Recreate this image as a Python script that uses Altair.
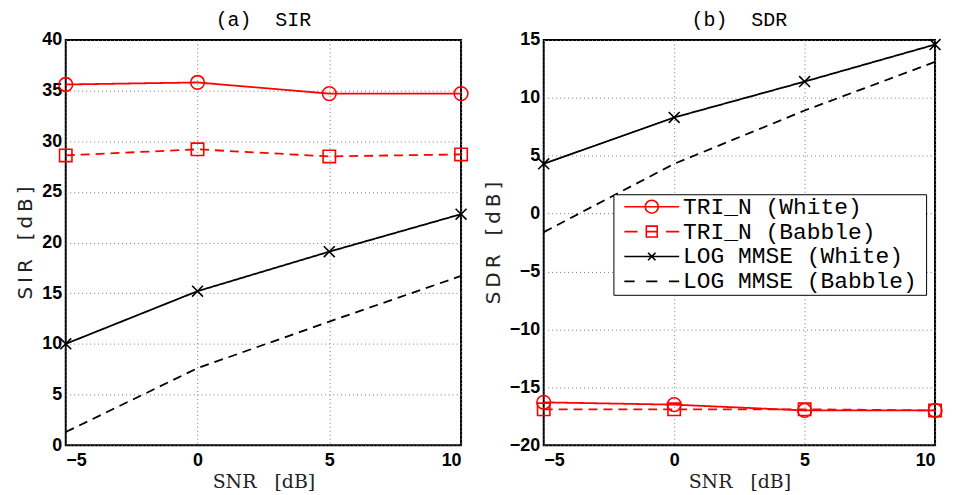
import altair as alt
import pandas as pd

snr = [-5, 0, 5, 10]
series_names = ["TRI_N (White)", "TRI_N (Babble)", "LOG MMSE (White)", "LOG MMSE (Babble)"]

sir_tri_white = [35.6, 35.8, 34.7, 34.7]
sir_tri_babble = [28.6, 29.2, 28.5, 28.7]
sir_log_white = [10.0, 15.2, 19.1, 22.8]
sir_log_babble = [1.3, 7.6, 12.2, 16.7]

sdr_tri_white = [-16.3, -16.5, -17.0, -17.0]
sdr_tri_babble = [-16.9, -16.9, -16.9, -17.0]
sdr_log_white = [4.3, 8.3, 11.4, 14.6]
sdr_log_babble = [-1.6, 4.3, 8.9, 13.1]

sir_ticks = [0, 5, 10, 15, 20, 25, 30, 35, 40]
sdr_ticks = [-20, -15, -10, -5, 0, 5, 10, 15]
snr_ticks = [-5, 0, 5, 10]

TS = "\u2009"   # thin space (letter spacing of the axis titles)
NB = "\u00a0"


def long_df(cols):
    rows = []
    for name, vals in zip(series_names, cols):
        for x, v in zip(snr, vals):
            rows.append({"snr": x, "val": v, "series": name})
    return pd.DataFrame(rows)


df_sir = long_df([sir_tri_white, sir_tri_babble, sir_log_white, sir_log_babble])
df_sdr = long_df([sdr_tri_white, sdr_tri_babble, sdr_log_white, sdr_log_babble])

color_scale = alt.Scale(domain=series_names, range=["#ff0000", "#ff0000", "#000000", "#000000"])
dash_scale = alt.Scale(domain=series_names, range=[[1, 0], [9, 6], [1, 0], [9, 6]])
marker_names = series_names[:3]
shape_scale = alt.Scale(domain=marker_names, range=["circle", "square", "M-1,-1L1,1M-1,1L1,-1"])
size_scale = alt.Scale(domain=marker_names, range=[190, 120, 60])

# legend glyphs: line segment(s) with the marker drawn in the middle
p_white = "M-3.67,0L3.67,0M-0.87,0A0.87,0.87 0 1,1 0.87,0A0.87,0.87 0 1,1 -0.87,0Z"
p_babble = "M-3.67,0L-1.9,0M-0.73,0L0.73,0M1.9,0L3.67,0M-0.73,-0.73L0.73,-0.73L0.73,0.73L-0.73,0.73Z"
p_log_white = "M-3.67,0L3.67,0M-0.5,-0.5L0.5,0.5M-0.5,0.5L0.5,-0.5"
p_log_babble = "M-3.67,0L-2.3,0M-0.75,0L0.75,0M2.3,0L3.67,0"
legend_shape_scale = alt.Scale(domain=series_names, range=[p_white, p_babble, p_log_white, p_log_babble])

legend = alt.Legend(
    title=NB,
    titleOrient="right",
    titleFontSize=8,
    titlePadding=8,
    orient="none",
    legendX=70,
    legendY=155,
    direction="vertical",
    labelFont="Liberation Mono",
    labelFontSize=23,
    labelColor="black",
    labelLimit=500,
    symbolSize=225,
    symbolStrokeWidth=1.6,
    symbolOffset=26,
    labelOffset=20,
    padding=1,
    rowPadding=1,
    strokeColor="black",
    fillColor="white",
    cornerRadius=0,
)


def panel(df, ydom, yticks, ytitle, title, with_legend, w):
    x = alt.X("snr:Q", scale=alt.Scale(domain=[-5, 10], nice=False),
              axis=alt.Axis(values=snr_ticks, title=f"SNR{NB}{NB}{NB}[dB]", format="d"))
    y = alt.Y("val:Q", scale=alt.Scale(domain=ydom, nice=False),
              axis=alt.Axis(values=yticks, title=ytitle, format="d"))
    base = alt.Chart(df)
    lines = base.mark_line(strokeWidth=1.8).encode(
        x=x, y=y,
        color=alt.Color("series:N", scale=color_scale, legend=None),
        strokeDash=alt.StrokeDash("series:N", scale=dash_scale, legend=None),
    )
    pts = base.transform_filter(
        alt.FieldOneOfPredicate(field="series", oneOf=marker_names)
    ).mark_point(filled=False, strokeWidth=1.6, opacity=1).encode(
        x=x, y=y,
        color=alt.Color("series:N", scale=color_scale, legend=None),
        shape=alt.Shape("series:N", scale=shape_scale, legend=None),
        size=alt.Size("series:N", scale=size_scale, legend=None),
    )
    layers = [lines, pts]
    if with_legend:
        leg_layer = base.transform_filter("false").mark_point(
            filled=False, strokeWidth=1.6, opacity=1
        ).encode(
            x=x, y=y,
            color=alt.Color("series:N", scale=color_scale, legend=legend),
            shape=alt.Shape("series:N", scale=legend_shape_scale, legend=legend),
        )
        layers.append(leg_layer)
    return alt.layer(*layers).resolve_scale(
        shape="independent", color="independent"
    ).properties(
        width=w, height=407,
        title=alt.TitleParams(title, font="Liberation Mono", fontSize=20,
                              fontWeight="normal", color="black", offset=1,
                              frame="group"),
    )


sir_title = TS.join("SIR") + NB * 3 + TS.join("[dB]")
sdr_title = TS.join("SDR") + NB * 3 + TS.join("[dB]")

left = panel(df_sir, [0, 40], sir_ticks, sir_title, f"(a){NB}{NB}SIR", False, 397)
right = panel(df_sdr, [-20, 15], sdr_ticks, sdr_title, f"(b){NB}{NB}SDR", True, 393)

chart = alt.hconcat(left, right, spacing=9).resolve_scale(
    color="independent", strokeDash="independent", shape="independent", size="independent"
).configure_view(
    stroke="black", strokeWidth=2
).configure_axis(
    labelFont="Liberation Sans", labelFontWeight="bold", labelFontSize=18,
    labelColor="black", labelPadding=4,
    titleFont="DejaVu Serif", titleFontWeight="normal", titleFontSize=19,
    titleColor="#222222",
    grid=True, gridDash=[1, 3], gridColor="#777777", gridWidth=1,
    ticks=False, domain=False,
).configure_axisY(
    titleFont="DejaVu Sans", titleFontSize=20, titlePadding=6
).configure_axisX(
    labelPadding=6, titlePadding=4
).properties(
    padding={"left": 6, "top": 0, "right": 0, "bottom": 0}
)

chart.save("out.html", embed_options={"renderer": "svg", "actions": False})
